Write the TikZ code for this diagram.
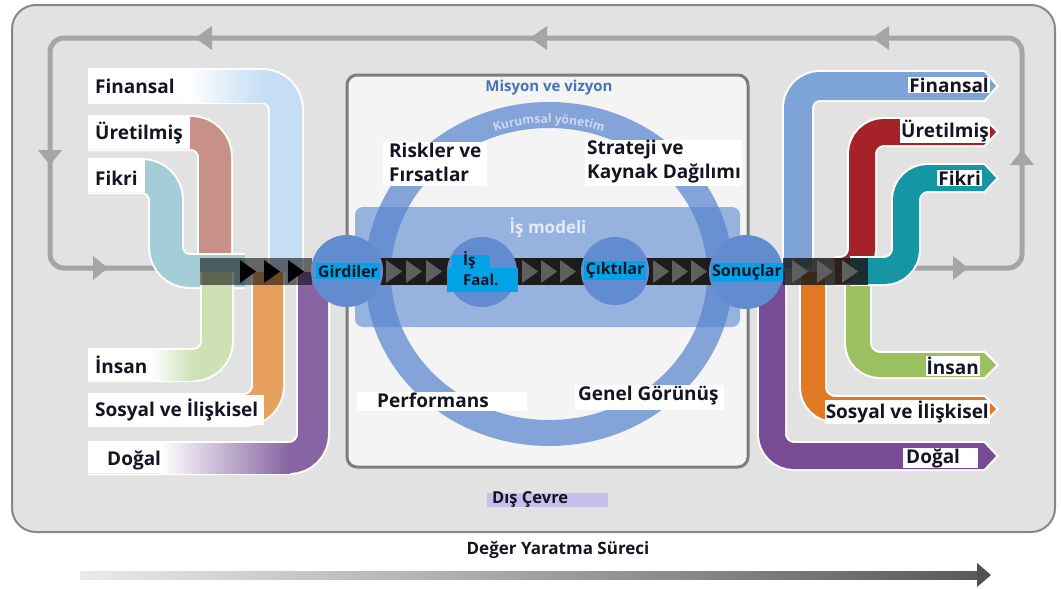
\documentclass[tikz,border=0pt]{standalone}
\usepackage{fontspec}
\setmainfont{Open Sans}
\usetikzlibrary{decorations.text}
\definecolor{outerf}{RGB}{226,226,226}
\definecolor{outerb}{RGB}{135,135,135}
\definecolor{loopc}{RGB}{165,165,165}
\definecolor{innerf}{RGB}{244,244,244}
\definecolor{innerb}{RGB}{125,125,125}
\definecolor{bandc}{RGB}{150,178,222}
\definecolor{ringc}{RGB}{85,130,205}
\definecolor{circc}{RGB}{98,140,208}
\definecolor{hl}{RGB}{0,162,232}
\definecolor{txt}{RGB}{20,20,35}
\definecolor{misc}{RGB}{70,115,185}
\definecolor{kurc}{RGB}{205,218,240}
\definecolor{modc}{RGB}{228,234,246}
\definecolor{lav}{RGB}{200,192,235}
\definecolor{lfin}{RGB}{198,222,244}
\definecolor{lure}{RGB}{200,145,135}
\definecolor{lfik}{RGB}{165,205,215}
\definecolor{lins}{RGB}{205,225,180}
\definecolor{lsos}{RGB}{232,160,95}
\definecolor{ldog}{RGB}{135,100,162}
\definecolor{rfin}{RGB}{125,163,215}
\definecolor{rure}{RGB}{165,35,40}
\definecolor{rfik}{RGB}{20,150,165}
\definecolor{rins}{RGB}{155,192,95}
\definecolor{rsos}{RGB}{225,120,35}
\definecolor{rdog}{RGB}{120,75,150}
\definecolor{chevd}{RGB}{28,28,28}
\definecolor{chevg}{RGB}{95,95,95}
\newcommand\lstream[3]{%
  \draw[white, line width=#2pt+4pt, rounded corners=24pt] #3;
  \draw[#1, line width=#2pt, rounded corners=24pt] #3;}
\newcommand\rstream[4]{%
  \draw[white, line width=#2pt+4pt, rounded corners=22pt] #3;
  \fill[white] (974,{-#4+#2/2+2}) -- (985,{-#4+#2/2+2}) -- (999,-#4) -- (985,{-#4-#2/2-2}) -- (974,{-#4-#2/2-2}) -- cycle;
  \draw[#1, line width=#2pt, rounded corners=22pt] #3;
  \fill[#1] (974,{-#4+#2/2}) -- (984,{-#4+#2/2}) -- (996,-#4) -- (984,{-#4-#2/2}) -- (974,{-#4-#2/2}) -- cycle;}
\newcommand\chev[2]{\fill[#2] (#1,-260) -- ({#1+16},-271.5) -- (#1,-283) -- cycle;}
\begin{document}
\begin{tikzpicture}[x=1pt,y=1pt,
  lbl/.style={font=\fontsize{19}{24}\selectfont\bfseries, text=txt, inner sep=1pt},
  clbl/.style={font=\fontsize{16}{18}\selectfont\bfseries, text=txt, inner sep=1.5pt},
  circ/.style={circle, fill=circc, inner sep=0pt}]
\useasboundingbox (0,0) rectangle (1061,-589);
\fill[white] (0,0) rectangle (1061,-589);
% outer frame
\draw[outerb, fill=outerf, line width=2pt, rounded corners=24pt] (12,-5) rectangle (1055,-532);
% feedback loop
\draw[loopc, line width=5pt, rounded corners=14pt] (170,-268) -- (50,-268) -- (50,-38) -- (1022,-38) -- (1022,-268) -- (900,-268);
\fill[loopc] (195,-38) -- (212,-26) -- (212,-50) -- cycle;
\fill[loopc] (530,-38) -- (547,-26) -- (547,-50) -- cycle;
\fill[loopc] (872,-38) -- (889,-26) -- (889,-50) -- cycle;
\fill[loopc] (50,-165) -- (38,-150) -- (62,-150) -- cycle;
\fill[loopc] (108,-268) -- (93,-256) -- (93,-280) -- cycle;
\fill[loopc] (1022,-150) -- (1010,-165) -- (1034,-165) -- cycle;
\fill[loopc] (968,-268) -- (953,-256) -- (953,-280) -- cycle;
% left streams
\lstream{lfin}{32}{(88,-86) -- (286,-86) -- (286,-272)}
\shade[left color=white, right color=lfin] (188,-70) rectangle (263,-102);
\lstream{lure}{32}{(88,-133) -- (215,-133) -- (215,-272)}
\lstream{lfik}{32}{(88,-176) -- (166,-176) -- (166,-271) -- (245,-271)}
\lstream{lins}{30}{(88,-365) -- (217,-365) -- (217,-272)}
\shade[left color=white, right color=lins] (150,-350) rectangle (194,-380);
\lstream{lsos}{30}{(88,-410) -- (268,-410) -- (268,-272)}
\lstream{ldog}{30}{(88,-458) -- (313,-458) -- (313,-272)}
\shade[left color=white, right color=ldog] (160,-443) rectangle (290,-473);
\fill[white] (88,-70) rectangle (188,-102);
\fill[white] (88,-117) rectangle (190,-149);
\fill[white] (88,-160) rectangle (145,-192);
\fill[white] (88,-350) rectangle (150,-380);
\fill[white] (88,-395) rectangle (264,-425);
\fill[white] (88,-443) rectangle (160,-473);
% right streams
\rstream{rdog}{26}{(772,-272) -- (772,-456) -- (976,-456)}{456}
\rstream{rsos}{24}{(813,-272) -- (813,-409) -- (976,-409)}{409}
\rstream{rins}{24}{(858,-272) -- (858,-365) -- (976,-365)}{365}
\rstream{rfin}{28}{(798,-268) -- (798,-86) -- (976,-86)}{86}
\rstream{rure}{26}{(835,-271) -- (862,-271) -- (862,-132) -- (976,-132)}{132}
\rstream{rfik}{26}{(850,-271) -- (906,-271) -- (906,-178) -- (976,-178)}{178}
% inner box
\draw[innerb, fill=innerf, line width=3pt, rounded corners=10pt] (347,-75) rectangle (748,-467);
\fill[bandc, rounded corners=8pt] (355,-207) rectangle (740,-327);
\fill[ringc, opacity=.7, even odd rule] (549,-274) ellipse [x radius=184, y radius=172] (549,-274) ellipse [x radius=158, y radius=146];
\path[decorate, decoration={text along path, text align=center, text color=kurc,
  text={|\fontsize{12}{13}\selectfont\bfseries|Kurumsal yönetim}}]
  (549,-274) ++(115:161 and 151) arc [start angle=115, end angle=65, x radius=161, y radius=151];
\node[font=\fontsize{15}{16}\selectfont\bfseries, text=misc] (mis) at (549,-88) {Misyon ve vizyon};
\node[font=\fontsize{17}{19}\selectfont\bfseries, text=modc] (mod) at (548,-228) {İş modeli};
% value chain band
\fill[black, opacity=.55] (200,-258) rectangle (312,-285);
\chev{240}{black}\chev{264}{black}\chev{288}{black}
\fill[chevd] (375,-258) rectangle (455,-285);
\chev{386}{chevg}\chev{406}{chevg}\chev{426}{chevg}
\fill[chevd] (510,-258) rectangle (588,-285);
\chev{522}{chevg}\chev{541}{chevg}\chev{560}{chevg}
\fill[chevd] (642,-258) rectangle (718,-285);
\chev{653}{chevg}\chev{672}{chevg}\chev{691}{chevg}
\fill[chevd, opacity=.85] (783,-258) rectangle (868,-285);
\chev{792}{chevg}\chev{817}{chevg}\chev{842}{chevg}
\node[circ, minimum size=72] (cgird) at (347,-271) {};
\node[circ, minimum size=70] (cis) at (482,-272) {};
\node[circ, minimum size=68] (ccik) at (615,-271) {};
\node[circ, minimum size=74] (cson) at (746,-272) {};
\node[clbl, fill=hl] (tgird) at (348,-271) {Girdiler};
\fill[hl] (447,-268) rectangle (518,-292);
\fill[hl] (452,-255) rectangle (490,-268);
\node[clbl, align=left, font=\fontsize{15}{20}\selectfont\bfseries, anchor=north west, inner sep=0pt] (tis) at (463,-251) {İş\\Faal.};
\node[clbl, fill=hl] (tcik) at (615,-270) {Çıktılar};
\node[clbl, fill=hl] (tson) at (747,-272) {Sonuçlar};
% inner labels
\fill[white] (383,-142) rectangle (487,-186);
\node[lbl, align=left, anchor=north west] (risk) at (388,-142) {Riskler ve\\Fırsatlar};
\fill[white] (585,-140) rectangle (742,-186);
\node[lbl, align=left, anchor=north west] (str) at (586,-139) {Strateji ve\\Kaynak Dağılımı};
\fill[white] (357,-392) rectangle (527,-411);
\node[lbl, anchor=west] (perf) at (376,-400) {Performans};
\fill[white] (575,-385) rectangle (724,-410);
\node[lbl, anchor=west] (gen) at (577,-396) {Genel Görünüş};
\fill[lav] (487,-493) rectangle (608,-507);
\node[font=\fontsize{16.5}{18}\selectfont\bfseries, text=txt, anchor=west, inner sep=0pt] (dis) at (492,-500) {Dış Çevre};
\node[font=\fontsize{17}{19}\selectfont\bfseries, text=txt] (deg) at (558,-550) {Değer Yaratma Süreci};
% left labels
\node[lbl, anchor=west] (lf) at (94,-86) {Finansal};
\node[lbl, anchor=west] (lu) at (94,-133) {Üretilmiş};
\node[lbl, anchor=west] (lk) at (94,-178) {Fikri};
\node[lbl, anchor=west] (li) at (94,-365) {İnsan};
\node[lbl, anchor=west] (ls) at (94,-410) {Sosyal ve İlişkisel};
\node[lbl, anchor=west] (ld) at (106,-460) {Doğal};
% right labels
\node[lbl, fill=white, anchor=east] (rf) at (990,-85) {Finansal};
\node[lbl, fill=white, anchor=east] (ru) at (990,-131) {Üretilmiş};
\node[lbl, fill=white, anchor=east] (rk) at (982,-178) {Fikri};
\node[lbl, fill=white, anchor=east] (ri) at (980,-366) {İnsan};
\node[lbl, fill=white, anchor=east] (rs) at (990,-412) {Sosyal ve İlişkisel};
\fill[white] (903,-448) rectangle (978,-468);
\node[lbl, anchor=west] (rd) at (905,-458) {Doğal};
% bottom process arrow
\shade[left color=black!8, right color=black!65] (80,-571) rectangle (978,-579);
\fill[black!68] (977,-563) -- (991,-575) -- (977,-587) -- cycle;
\end{tikzpicture}
\end{document}
